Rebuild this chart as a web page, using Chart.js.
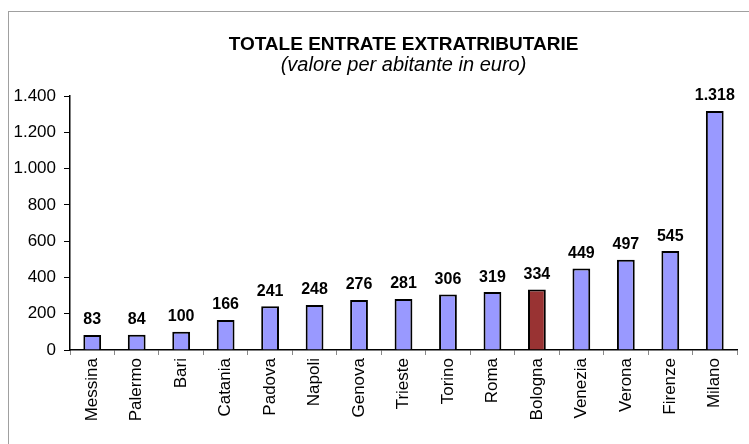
<!DOCTYPE html>
<html>
<head>
<meta charset="utf-8">
<script src="https://cdn.jsdelivr.net/npm/chart.js@4.4.1/dist/chart.umd.min.js"></script>
<style>
    body { margin: 0; background: #fff; }
    #wrap { position: relative; width: 749px; height: 444px; overflow: hidden; }
    #frame { position: absolute; left: 8px; top: 11px; width: 900px; height: 600px;
             border-left: 1px solid #a0a0a0; border-top: 1px solid #a0a0a0; }
    #entrateChart { position: absolute; left: 0; top: 0; }
</style>
</head>
<body>
<div id="wrap">
    <div id="frame"></div>
    <canvas id="entrateChart" width="749" height="444"></canvas>
</div>
<script>
/* ====== dati ===== */
const cities = ['Messina', 'Palermo', 'Bari', 'Catania', 'Padova', 'Napoli', 'Genova',
    'Trieste', 'Torino', 'Roma', 'Bologna', 'Venezia', 'Verona', 'Firenze', 'Milano'];
const valori = [83, 84, 100, 166, 241, 248, 276, 281, 306, 319, 334, 449, 497, 545, 1318];
const highlightCity = 'Bologna';
const yTicks = [0, 200, 400, 600, 800, 1000, 1200, 1400];

// 1400 -> "1.400"
function fmt(v) {
    return String(v).replace(/\B(?=(\d{3})+(?!\d))/g, '.');
}

const barColors = cities.map(c => c === highlightCity ? '#993333' : '#9999FF');

/* ====== etichette sopra le barre ===== */
const valueLabels = {
    id: 'valueLabels',
    afterDatasetsDraw(chart) {
        const ctx = chart.ctx;
        const meta = chart.getDatasetMeta(0);
        ctx.save();
        ctx.font = 'bold 16px "Liberation Sans", Arial, sans-serif';
        ctx.fillStyle = '#000';
        ctx.textAlign = 'center';
        ctx.textBaseline = 'bottom';
        meta.data.forEach((bar, i) => {
            ctx.fillText(fmt(valori[i]), bar.x, bar.y - 7);
        });
        ctx.restore();
    }
};

const entrateConfig = {
    type: 'bar',
    data: {
        labels: cities,
        datasets: [
            {
            data: valori,
            backgroundColor: barColors,
            borderColor: '#000',
            borderWidth: 2,
            barPercentage: 0.4,
            categoryPercentage: 1.0,
            }
        ]
    },
    options: {
        responsive: false,
        animation: false,
        layout: {
            padding: { left: 0, right: 12, top: 35, bottom: 0 }
        },
        scales: {
            x: {
                grid: {
                    drawOnChartArea: false,
                    drawTicks: true,
                    tickLength: 5,
                    color: '#888',
                },
                border: { color: '#000', width: 1.5 },
                ticks: {
                    color: '#000',
                    minRotation: 90,
                    maxRotation: 90,
                    padding: 3,
                    autoSkip: false,
                    font: { family: '"Liberation Sans", Arial, sans-serif', size: 17 },
                },
                afterFit(scale) { scale.height = 94; }
            },
            y: {
                min: 0,
                max: 1400,
                afterBuildTicks(scale) { scale.ticks = yTicks.map(v => ({ value: v })); },
                grid: {
                    drawOnChartArea: false,
                    drawTicks: true,
                    tickLength: 6,
                    color: '#000',
                },
                border: { color: '#000', width: 1.5 },
                ticks: {
                    color: '#000',
                    padding: 8,
                    callback: v => fmt(v),
                    font: { family: '"Liberation Sans", Arial, sans-serif', size: 17 },
                },
                afterFit(scale) { scale.width = 70; }
            }
        },
        plugins: {
            legend: { display: false },
            tooltip: { enabled: false },
            title: {
                display: true,
                fullSize: false,
                text: 'TOTALE ENTRATE EXTRATRIBUTARIE',
                color: '#000',
                font: { family: '"Liberation Sans", Arial, sans-serif', size: 19, weight: 'bold', lineHeight: 1 },
                padding: { top: 0, bottom: 1 },
            },
            subtitle: {
                display: true,
                fullSize: false,
                text: '(valore per abitante in euro)',
                color: '#000',
                font: { family: '"Liberation Sans", Arial, sans-serif', size: 20, style: 'italic', lineHeight: 1 },
                padding: { top: 0, bottom: 21 },
            }
        }
    },
    plugins: [valueLabels]
};

const entrateChart = new Chart(
    document.querySelector('#entrateChart'),
    entrateConfig
);
</script>
</body>
</html>
